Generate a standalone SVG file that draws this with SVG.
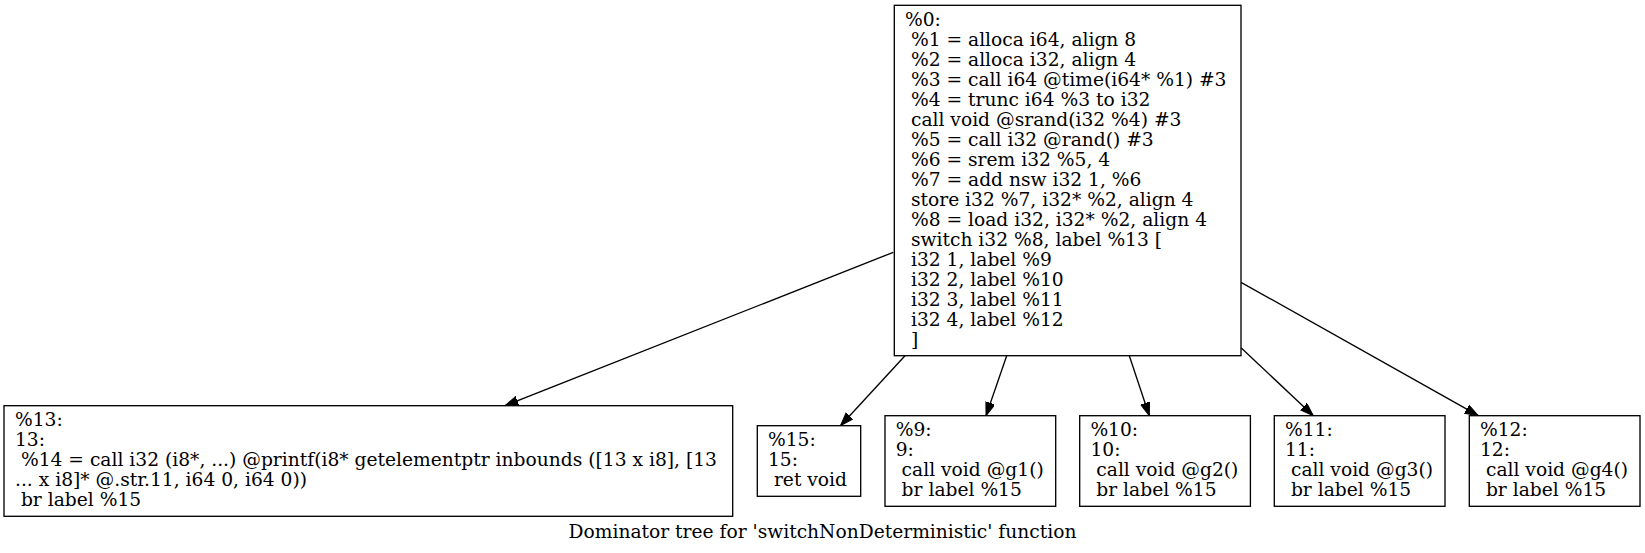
<svg xmlns="http://www.w3.org/2000/svg" width="1645" height="553" viewBox="0 0 1645 553" xml:space="preserve">
<style>
  .node rect { fill: #ffffff; stroke: #000000; stroke-width: 1.33; }
  text { font-family: "DejaVu Serif", serif; font-size: 18.67px; fill: #000000; white-space: pre; }
  .edges line { stroke: #000000; stroke-width: 1.33; marker-end: url(#arrow); }
</style>
<defs>
  <marker id="arrow" markerUnits="userSpaceOnUse" markerWidth="14" markerHeight="10" refX="13.33" refY="4.67" orient="auto">
    <path d="M0,0 L13.33,4.67 L0,9.33 z" fill="#000000" stroke="#000000" stroke-width="1"/>
  </marker>
</defs>
<rect x="0" y="0" width="1645" height="553" fill="#ffffff"/>
<g id="edges" class="edges">
  <line x1="893.3" y1="252.3" x2="505" y2="405.7"/>
  <line x1="905" y1="355.7" x2="840.5" y2="425.7"/>
  <line x1="1006.7" y1="355.7" x2="986" y2="415.7"/>
  <line x1="1129.3" y1="355.7" x2="1149.3" y2="415.7"/>
  <line x1="1241" y1="347.7" x2="1313.3" y2="415.7"/>
  <line x1="1241" y1="282.3" x2="1478.3" y2="415.7"/>
</g>
<g id="node0" class="node">
  <rect x="894.3" y="5.3" width="346.7" height="350.4"/>
  <text x="905" y="25.6"><tspan x="905">%0:</tspan><tspan x="905" dy="20"> %1 = alloca i64, align 8</tspan><tspan x="905" dy="20"> %2 = alloca i32, align 4</tspan><tspan x="905" dy="20"> %3 = call i64 @time(i64* %1) #3</tspan><tspan x="905" dy="20"> %4 = trunc i64 %3 to i32</tspan><tspan x="905" dy="20"> call void @srand(i32 %4) #3</tspan><tspan x="905" dy="20"> %5 = call i32 @rand() #3</tspan><tspan x="905" dy="20"> %6 = srem i32 %5, 4</tspan><tspan x="905" dy="20"> %7 = add nsw i32 1, %6</tspan><tspan x="905" dy="20"> store i32 %7, i32* %2, align 4</tspan><tspan x="905" dy="20"> %8 = load i32, i32* %2, align 4</tspan><tspan x="905" dy="20"> switch i32 %8, label %13 [</tspan><tspan x="905" dy="20"> i32 1, label %9</tspan><tspan x="905" dy="20"> i32 2, label %10</tspan><tspan x="905" dy="20"> i32 3, label %11</tspan><tspan x="905" dy="20"> i32 4, label %12</tspan><tspan x="905" dy="20"> ]</tspan></text>
</g>
<g id="node13" class="node">
  <rect x="4" y="405.7" width="728.7" height="110.6"/>
  <text x="15" y="426.1"><tspan x="15">%13:</tspan><tspan x="15" dy="20">13:</tspan><tspan x="15" dy="20"> %14 = call i32 (i8*, ...) @printf(i8* getelementptr inbounds ([13 x i8], [13</tspan><tspan x="15" dy="20">... x i8]* @.str.11, i64 0, i64 0))</tspan><tspan x="15" dy="20"> br label %15</tspan></text>
</g>
<g id="node15" class="node">
  <rect x="757.3" y="425.7" width="103.4" height="70.6"/>
  <text x="768" y="446.1"><tspan x="768">%15:</tspan><tspan x="768" dy="20">15:</tspan><tspan x="768" dy="20"> ret void</tspan></text>
</g>
<g id="node9" class="node">
  <rect x="885" y="415.7" width="170.7" height="90.6"/>
  <text x="895.7" y="436.1"><tspan x="895.7">%9:</tspan><tspan x="895.7" dy="20">9:</tspan><tspan x="895.7" dy="20"> call void @g1()</tspan><tspan x="895.7" dy="20"> br label %15</tspan></text>
</g>
<g id="node10" class="node">
  <rect x="1079.7" y="415.7" width="170.7" height="90.6"/>
  <text x="1090.4" y="436.1"><tspan x="1090.4">%10:</tspan><tspan x="1090.4" dy="20">10:</tspan><tspan x="1090.4" dy="20"> call void @g2()</tspan><tspan x="1090.4" dy="20"> br label %15</tspan></text>
</g>
<g id="node11" class="node">
  <rect x="1274.3" y="415.7" width="170.7" height="90.6"/>
  <text x="1285" y="436.1"><tspan x="1285">%11:</tspan><tspan x="1285" dy="20">11:</tspan><tspan x="1285" dy="20"> call void @g3()</tspan><tspan x="1285" dy="20"> br label %15</tspan></text>
</g>
<g id="node12" class="node">
  <rect x="1469.3" y="415.7" width="170.7" height="90.6"/>
  <text x="1480" y="436.1"><tspan x="1480">%12:</tspan><tspan x="1480" dy="20">12:</tspan><tspan x="1480" dy="20"> call void @g4()</tspan><tspan x="1480" dy="20"> br label %15</tspan></text>
</g>
<g id="title">
  <text x="822.5" y="538" text-anchor="middle">Dominator tree for 'switchNonDeterministic' function</text>
</g>
</svg>
